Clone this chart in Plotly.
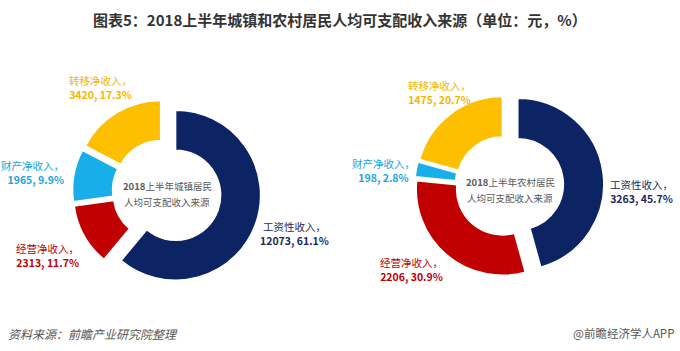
import plotly.graph_objects as go

categories = ["工资性收入", "经营净收入", "财产净收入", "转移净收入"]
urban_values = [12073, 2313, 1965, 3420]
rural_values = [3263, 2206, 198, 1475]
colors = ["#0c2463", "#c00000", "#18aeea", "#fdbf00"]
label_colors = ["#1b2a5c", "#c00000", "#18a6e0", "#f2b600"]

title_text = "图表5：2018上半年城镇和农村居民人均可支配收入来源（单位：元，%）"
urban_center = ["<b>2018</b>上半年城镇居民", "人均可支配收入来源"]
rural_center = ["<b>2018</b>上半年农村居民", "人均可支配收入来源"]

W, H = 680, 351
font_family = "Noto Sans CJK SC, Microsoft YaHei, sans-serif"

# pie geometry (pixels): centre, radius, pulls, label placement (x, y, anchor)
urban_geo = dict(cx=164, cy=191, r=85, pull=[0.145, 0.076, 0.076, 0.076],
                 text_dx=3, text_dy=3,
                 label_pos=[(294, 233, "center"), (81, 255, "right"),
                            (66, 172, "right"), (100, 87, "center")])
rural_geo = dict(cx=505, cy=186, r=86, pull=[0.15, 0.05, 0.05, 0.05],
                 text_dx=5, text_dy=4,
                 label_pos=[(641, 191, "center"), (412, 269, "center"),
                            (383, 170, "center"), (439, 92, "center")])


def dom(g):
    half = g["r"] * (1 + max(g["pull"]))
    return dict(x=[(g["cx"] - half) / W, (g["cx"] + half) / W],
                y=[1 - (g["cy"] + half) / H, 1 - (g["cy"] - half) / H])


def make_pie(values, g):
    return go.Pie(
        labels=categories,
        values=values,
        hole=0.53,
        sort=False,
        direction="clockwise",
        rotation=0,
        pull=g["pull"],
        automargin=False,
        marker=dict(colors=colors, line=dict(width=1.5, color="white")),
        textinfo="none",
        domain=dom(g),
        showlegend=False,
        hoverinfo="label+value+percent",
    )


fig = go.Figure()
fig.add_trace(make_pie(urban_values, urban_geo))
fig.add_trace(make_pie(rural_values, rural_geo))

annotations = [
    dict(text="<b>" + title_text + "</b>", x=0.5, y=1 - 20 / H, xref="paper", yref="paper",
         showarrow=False, font=dict(size=15, color="#333333", family=font_family),
         xanchor="center", yanchor="middle"),
    dict(text="<i>资料来源：前瞻产业研究院整理</i>", x=6 / W, y=1 - 333 / H, xref="paper", yref="paper",
         showarrow=False, font=dict(size=12, color="#555555", family=font_family),
         xanchor="left", yanchor="middle"),
    dict(text="@前瞻经济学人APP", x=1 - 4 / W, y=1 - 333 / H, xref="paper", yref="paper",
         showarrow=False, font=dict(size=11.5, color="#555555", family=font_family),
         xanchor="right", yanchor="middle"),
]

for g, values, lines in ((urban_geo, urban_values, urban_center),
                         (rural_geo, rural_values, rural_center)):
    total = sum(values)
    for k, line in enumerate(lines):
        annotations.append(dict(
            text=line, x=(g["cx"] + g["text_dx"]) / W,
            y=1 - (g["cy"] + g["text_dy"] - 8 + 16 * k) / H,
            xref="paper", yref="paper", showarrow=False,
            font=dict(size=9.5, color="#595959", family=font_family),
            xanchor="center", yanchor="middle"))
    for cat, v, col, (lx, ly, anc) in zip(categories, values, label_colors, g["label_pos"]):
        pct = v / total * 100
        annotations.append(dict(
            text=f"{cat}，<br><b>{v}, {pct:.1f}%</b>",
            x=lx / W, y=1 - ly / H, xref="paper", yref="paper", showarrow=False,
            xanchor=anc, yanchor="middle", align=anc,
            font=dict(size=10.5, color=col, family=font_family)))

fig.update_layout(
    width=W, height=H,
    margin=dict(l=0, r=0, t=0, b=0, autoexpand=False),
    paper_bgcolor="white",
    plot_bgcolor="white",
    font=dict(family=font_family),
    annotations=annotations,
)

fig.write_html("out.html")
